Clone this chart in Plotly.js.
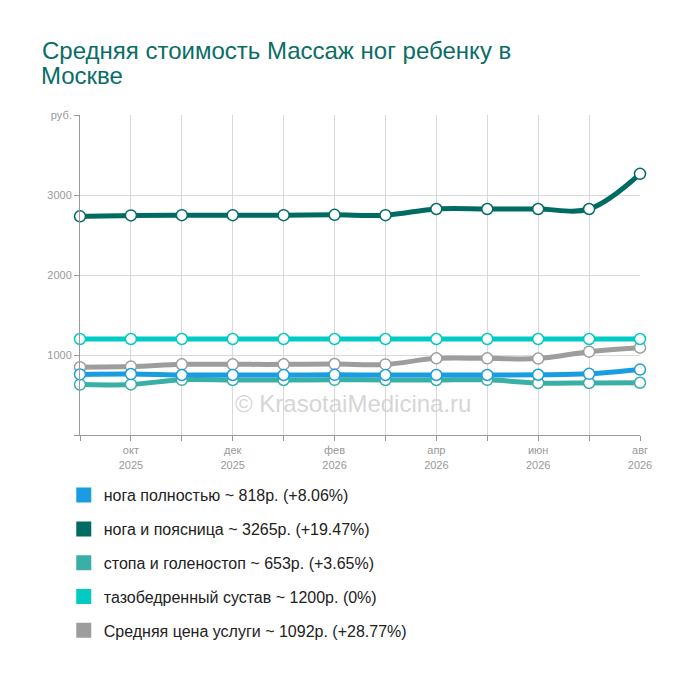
<!DOCTYPE html>
<html><head><meta charset="utf-8">
<script src="https://cdn.plot.ly/plotly-3.0.1.min.js"></script>
<style>body{margin:0;background:#fff}#chart{width:700px;height:680px}</style>
</head><body><div id="chart"></div>
<script>
const titleLines = ['Средняя стоимость Массаж ног ребенку в','Москве'];
const months = ['сен<br>2025','окт<br>2025','ноя<br>2025','дек<br>2025','янв<br>2026','фев<br>2026','мар<br>2026','апр<br>2026','май<br>2026','июн<br>2026','июл<br>2026','авг<br>2026'];
const seriesNames = ['нога полностью','нога и поясница','стопа и голеностоп','тазобедренный сустав','Средняя цена услуги'];
const nogaPolnostyu = [757,762,750,750,750,752,750,750,750,753,765,818];
const nogaIPoyasnitsa = [2733,2745,2748,2748,2748,2752,2748,2825,2825,2825,2825,3265];
const stopaIGolenostop = [630,632,690,688,688,690,688,688,690,650,650,653];
const tazobedrennyiSustav = [1200,1200,1200,1200,1200,1200,1200,1200,1200,1200,1200,1200];
const srednyayaCena = [848,855,883,883,883,887,882,958,958,955,1042,1092];
const legendPrice = [818,3265,653,1200,1092];
const legendChange = ['+8.06%','+19.47%','+3.65%','0%','+28.77%'];
const yTickVals = [0,1000,2000,3000,4000];
const yTickText = ['','1000','2000','3000','руб.'];
const colors = ['#1a9de0','#006b62','#3aafa5','#00cbc3','#9d9d9d'];

const seriesData = [nogaPolnostyu,nogaIPoyasnitsa,stopaIGolenostop,tazobedrennyiSustav,srednyayaCena];
const idx = months.map((m,i)=>i);
const drawOrder = [4,3,2,0,1];
const traces = [];
drawOrder.forEach(k=>{
  traces.push({
    x: idx, y: seriesData[k], type:'scatter', mode:'lines+markers', cliponaxis:false,
    line:{color:colors[k], width:5, shape:'spline', smoothing:1},
    marker:{size:11, color:'#ffffff', line:{color:colors[k], width:1.5}},
    showlegend:false, hoverinfo:'skip'
  });
});
seriesNames.forEach((n,k)=>{
  traces.push({
    x:[null], y:[null], xaxis:'x2', yaxis:'y2', type:'scatter', mode:'markers',
    name: n + ' ~ ' + legendPrice[k] + 'р. (' + legendChange[k] + ')',
    legendgroup:'g'+k,
    marker:{symbol:'square', size:15, color:colors[k]}
  });
});

const FONT = '"Liberation Sans", Arial, sans-serif';
const layout = {
  width:700, height:680,
  paper_bgcolor:'#ffffff', plot_bgcolor:'#ffffff',
  margin:{l:80, r:60, t:115, b:245},
  font:{family:FONT, color:'#999999', size:11},
  title:{text:titleLines[0], x:42/700, xanchor:'left', xref:'container',
    yref:'container', y:1-51/680, yanchor:'middle',
    font:{family:FONT, size:24, color:'#0a6d66'}},
  xaxis:{range:[0,11], tickvals:[1,2,3,4,5,6,7,8,9,10], showticklabels:false, ticks:'',
    showgrid:true, gridcolor:'#d9d9d9', gridwidth:1, showline:false, zeroline:false, fixedrange:true},
  xaxis2:{range:[0,11], overlaying:'x', tickvals:idx, ticktext:months.map((m,i)=>i%2===1?m:''),
    showgrid:false, showline:true, linecolor:'#999999', linewidth:1, ticks:'outside', ticklen:5,
    tickcolor:'#999999', zeroline:false, tickfont:{size:11, color:'#999999'}},
  yaxis:{range:[0,4000], tickvals:[1000,2000,3000], showticklabels:false, ticks:'',
    showgrid:true, gridcolor:'#d9d9d9', gridwidth:1, showline:false, zeroline:false},
  yaxis2:{range:[0,4000], overlaying:'y', side:'left', tickvals:yTickVals, ticktext:yTickText,
    showgrid:false, showline:true, linecolor:'#999999', linewidth:1, ticks:'outside', ticklen:5,
    tickcolor:'#999999', zeroline:false, tickfont:{size:11, color:'#999999'}},
  showlegend:true,
  legend:{x:-0.029, xanchor:'left', y:-0.135, yanchor:'top', orientation:'v', tracegroupgap:10,
    font:{family:FONT, size:16, color:'#222222'}, bgcolor:'rgba(0,0,0,0)'},
  annotations:[
    {text:titleLines[1], xref:'paper', yref:'paper', x:(39-80)/560, xanchor:'left',
      y:(435-75)/320, yanchor:'middle', showarrow:false, font:{family:FONT, size:24, color:'#0a6d66'}},
    {text:'© KrasotaiMedicina.ru', xref:'paper', yref:'paper', x:0.487, xanchor:'center', y:0.097, yanchor:'middle',
    showarrow:false, font:{family:FONT, size:24, color:'#d6d6d6'}}]
};
Plotly.newPlot('chart', traces, layout, {displayModeBar:false, staticPlot:true});
</script></body></html>
